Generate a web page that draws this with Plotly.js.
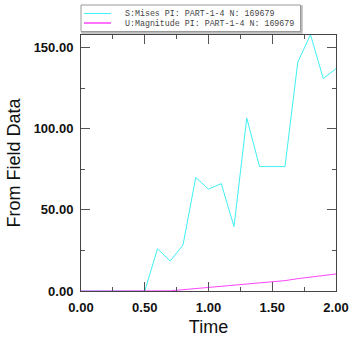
<!DOCTYPE html>
<html><head><meta charset="utf-8">
<script src="https://cdn.plot.ly/plotly-3.0.1.min.js"></script>
<style>body{margin:0;background:#fff}#plot{width:359px;height:338px}</style>
</head><body><div id="plot"></div>
<script>
const time = [0.0,0.1,0.2,0.3,0.4,0.5,0.6,0.7,0.8,0.9,1.0,1.1,1.2,1.3,1.4,1.5,1.6,1.7,1.8,1.9,2.0];
const misesValues = [0,0,0,0,0,0,26,18.5,28.4,70,62.8,66.2,39.7,106.6,76.7,76.9,76.7,141,158,131,137];
const magnitudeValues = [0,0,0,0,0,0,0,0.1,0.8,1.5,2.3,2.9,3.5,4.1,4.7,5.4,6.4,7.6,8.6,9.6,10.5];
const seriesNames = ["S:Mises PI: PART-1-4 N: 169679","U:Magnitude PI: PART-1-4 N: 169679"];
const seriesColors = ['#3ff0f5','#ff44ff'];

const M = {l:81, r:23, t:35, b:47};
const W = 359, H = 338;
const pw = W - M.l - M.r, ph = H - M.t - M.b;
const px = v => (v - M.l) / pw;          // pixel -> paper x
const py = v => (H - M.b - v) / ph;      // pixel -> paper y

const axisCommon = {
  showline:true, linecolor:'#444', linewidth:1, mirror:'ticks',
  ticks:'inside', ticklen:9, tickcolor:'#555', tickwidth:1,
  showgrid:false, zeroline:false, tickformat:'.2f',
  tickfont:{family:'Liberation Sans, Arial, sans-serif', size:13, color:'#111', weight:'bold'},
  ticklabelstandoff:4
};
const data = [
  {x:time, y:misesValues, name:seriesNames[0], mode:'lines', line:{color:seriesColors[0], width:1}},
  {x:time, y:magnitudeValues, name:seriesNames[1], mode:'lines', line:{color:seriesColors[1], width:1}}
];

// legend box drawn as layout decoration
const shapes = [
  {type:'rect', xref:'paper', yref:'paper', x0:px(82), x1:px(302), y0:py(33), y1:py(6), line:{color:'#bbb', width:1.5}, fillcolor:'#bbb', layer:'above'},
  {type:'rect', xref:'paper', yref:'paper', x0:px(81), x1:px(300.5), y0:py(31.5), y1:py(5), line:{color:'#999', width:1}, fillcolor:'#fff', layer:'above'},
  {type:'line', xref:'paper', yref:'paper', x0:px(84), x1:px(111), y0:py(13.5), y1:py(13.5), line:{color:seriesColors[0], width:1}, layer:'above'},
  {type:'line', xref:'paper', yref:'paper', x0:px(84), x1:px(111), y0:py(23), y1:py(23), line:{color:seriesColors[1], width:1.5}, layer:'above'}
];
const legFont = {family:'Liberation Mono, Courier New, monospace', size:8.3, color:'#444'};
const annotations = [
  {xref:'paper', yref:'paper', x:px(123), y:py(13.8), xanchor:'left', yanchor:'middle', text:seriesNames[0], showarrow:false, font:legFont},
  {xref:'paper', yref:'paper', x:px(123), y:py(23.5), xanchor:'left', yanchor:'middle', text:seriesNames[1], showarrow:false, font:legFont}
];

const layout = {
  width:W, height:H, margin:M,
  paper_bgcolor:'#fff', plot_bgcolor:'#fff',
  showlegend:false, shapes, annotations,
  xaxis:Object.assign({}, axisCommon, {range:[0,2], dtick:0.5, tick0:0,
    minor:{dtick:0.25, ticklen:4, tickcolor:'#555', ticks:'inside'},
    title:{text:'Time', font:{family:'Liberation Sans, Arial, sans-serif', size:18, color:'#111'}, standoff:6}}),
  yaxis:Object.assign({}, axisCommon, {range:[0,157.8], dtick:50, tick0:0,
    minor:{dtick:25, ticklen:4, tickcolor:'#555', ticks:'inside'},
    title:{text:'From Field Data', font:{family:'Liberation Sans, Arial, sans-serif', size:18, color:'#111'}, standoff:8}})
};
Plotly.newPlot('plot', data, layout, {displayModeBar:false, staticPlot:true});
</script></body></html>
